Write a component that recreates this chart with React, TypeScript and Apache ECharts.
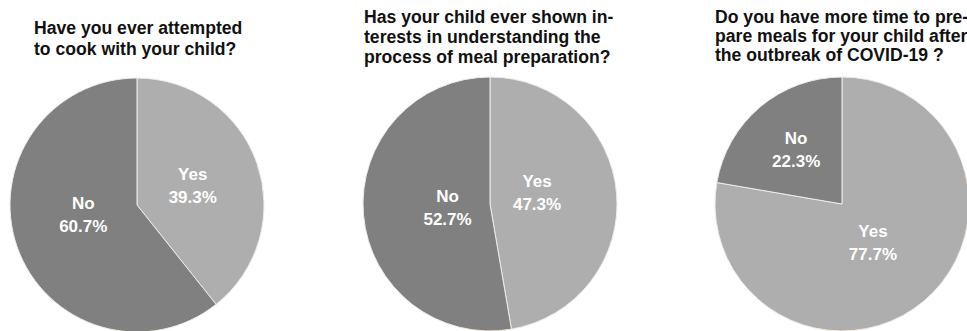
import React, { useEffect, useRef } from "react";
import * as echarts from "echarts";

const titles = [
  "Have you ever attempted\nto cook with your child?",
  "Has your child ever shown in-\nterests in understanding the\nprocess of meal preparation?",
  "Do you have more time to pre-\npare meals for your child after\nthe outbreak of COVID-19 ?",
];
const categories = ["Yes", "No"];
const cookValues = [39.3, 60.7];
const interestValues = [47.3, 52.7];
const timeValues = [77.7, 22.3];
const allValues = [cookValues, interestValues, timeValues];

// layout / style settings
const colors = ["#aeaeae", "#808080"];
const centersX = [137, 490, 842];
const centersY = [205, 204, 204];
const pieRadius = 127;
const titleLeft = [34, 364, 715];
const titleTop = [17, 6.5, 7.5];
const titleLineHeight = [21, 20, 19];
// label distance from centre (fraction of radius) and angle shift (deg) per slice
const labelRatio = [
  [0.465, 0.43],
  [0.38, 0.336],
  [0.39, 0.56],
];
const labelShift = [
  [0, 9],
  [-8, -1],
  [1.5, 0],
];

export default function App() {
  const ref = useRef<HTMLDivElement>(null);
  useEffect(() => {
    if (!ref.current) return;
    const chart = echarts.init(ref.current, undefined, { renderer: "svg" });
    chart.setOption({
      animation: false,
      backgroundColor: "#ffffff",
      title: titles.map((t, i) => ({
        text: t,
        left: titleLeft[i],
        top: titleTop[i],
        padding: 0,
        textStyle: {
          fontFamily: "Liberation Sans, Arial, sans-serif",
          fontSize: 17.6,
          fontWeight: "bold",
          color: "#111111",
          lineHeight: titleLineHeight[i],
        },
      })),
      series: allValues.map((vals, s) => {
        const total = vals.reduce((a, b) => a + b, 0);
        const mids: number[] = [];
        let acc = 0;
        vals.forEach((v) => {
          mids.push(((acc + v / 2) / total) * 360);
          acc += v;
        });
        return {
          type: "pie",
          center: [centersX[s], centersY[s]],
          radius: pieRadius,
          startAngle: 90,
          clockwise: true,
          silent: true,
          data: categories.map((c, j) => ({
            name: c,
            value: vals[j],
            itemStyle: { color: colors[j] },
          })),
          itemStyle: { borderColor: "#f0ebe4", borderWidth: 1 },
          label: {
            show: true,
            position: "inside",
            formatter: (p: any) => `${p.name}\n${p.value.toFixed(1)}%`,
            color: "#ffffff",
            fontFamily: "Liberation Sans, Arial, sans-serif",
            fontSize: 17,
            fontWeight: "bold",
            lineHeight: 23,
            align: "center",
            verticalAlign: "middle",
          },
          labelLayout: (params: any) => {
            const j = params.dataIndex;
            const ang = ((mids[j] + labelShift[s][j]) * Math.PI) / 180;
            const r = labelRatio[s][j] * pieRadius;
            return {
              x: centersX[s] + r * Math.sin(ang),
              y: centersY[s] - r * Math.cos(ang),
              align: "center",
              verticalAlign: "middle",
            };
          },
          labelLine: { show: false },
        };
      }),
    });
    return () => chart.dispose();
  }, []);
  return (
    <div
      ref={ref}
      style={{ position: "fixed", left: 0, top: 0, width: 967, height: 331 }}
    />
  );
}
